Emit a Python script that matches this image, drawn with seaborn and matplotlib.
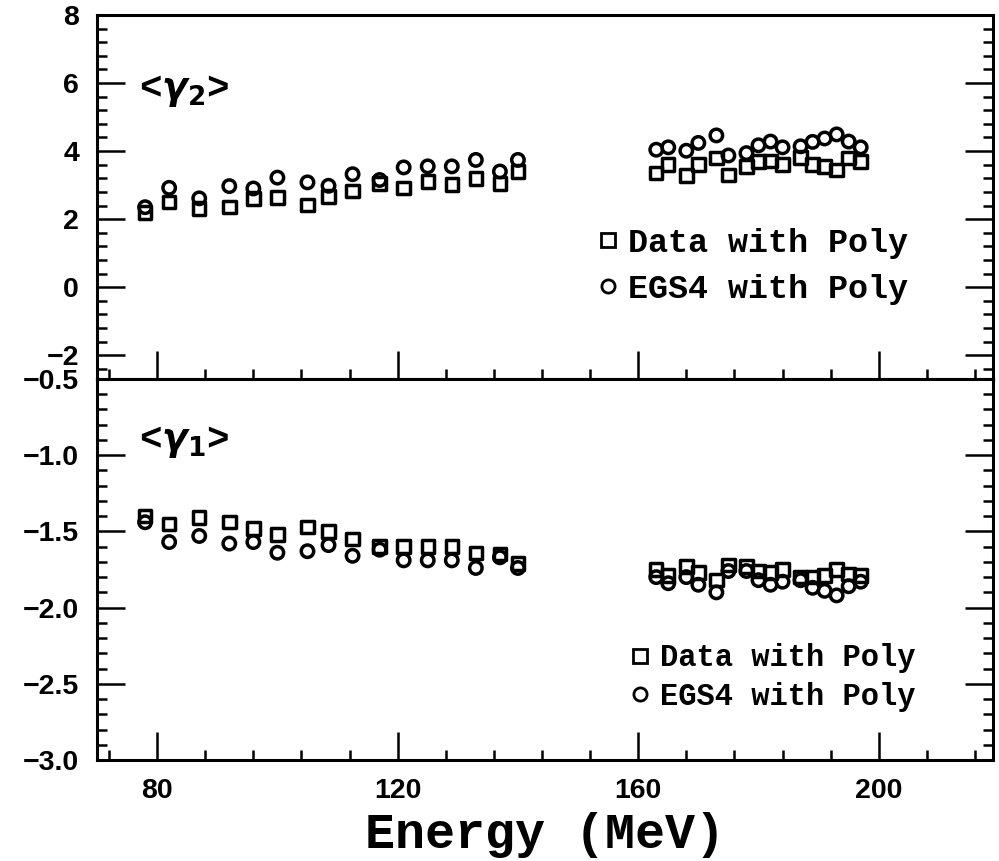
import numpy as np
import pandas as pd
import matplotlib
matplotlib.use('Agg')
import matplotlib.pyplot as plt
from matplotlib.ticker import MultipleLocator
from matplotlib.lines import Line2D
import seaborn as sns

# ---------------- data ----------------
energy_low = [78, 82, 87, 92, 96, 100, 105, 108.5, 112.5, 117, 121, 125, 129, 133, 137, 140]
energy_high = [163, 165, 168, 170, 173, 175, 178, 180, 182, 184, 187, 189, 191, 193, 195, 197]

g2_data_low = [2.20, 2.51, 2.31, 2.36, 2.60, 2.63, 2.41, 2.66, 2.82, 3.05, 2.92, 3.10, 3.02, 3.20, 3.05, 3.40]
g2_egs_low = [2.35, 2.92, 2.61, 2.97, 2.90, 3.22, 3.08, 2.98, 3.32, 3.15, 3.52, 3.55, 3.55, 3.74, 3.40, 3.74]
g2_data_high = [3.35, 3.60, 3.28, 3.60, 3.79, 3.30, 3.55, 3.69, 3.71, 3.60, 3.81, 3.60, 3.55, 3.45, 3.79, 3.69]
g2_egs_high = [4.04, 4.11, 4.01, 4.24, 4.46, 3.87, 3.94, 4.17, 4.28, 4.11, 4.14, 4.27, 4.37, 4.49, 4.28, 4.11]

g1_data_low = [-1.40, -1.45, -1.41, -1.44, -1.48, -1.52, -1.47, -1.50, -1.55, -1.60, -1.60, -1.60, -1.60, -1.64, -1.65, -1.71]
g1_egs_low = [-1.44, -1.57, -1.53, -1.58, -1.57, -1.64, -1.63, -1.59, -1.66, -1.62, -1.69, -1.69, -1.69, -1.74, -1.67, -1.74]
g1_data_high = [-1.75, -1.79, -1.73, -1.77, -1.82, -1.72, -1.73, -1.76, -1.77, -1.75, -1.80, -1.80, -1.79, -1.75, -1.78, -1.79]
g1_egs_high = [-1.80, -1.84, -1.80, -1.85, -1.90, -1.76, -1.76, -1.82, -1.85, -1.83, -1.82, -1.87, -1.89, -1.92, -1.86, -1.83]

series_names = ["Data with Poly", "EGS4 with Poly"]
x_ticks = [80, 120, 160, 200]

# ---------------- build tables ----------------
def make_df(data_low, data_high, egs_low, egs_high):
    e = energy_low + energy_high
    return pd.DataFrame({
        "energy": e + e,
        "value": data_low + data_high + egs_low + egs_high,
        "series": [series_names[0]] * len(e) + [series_names[1]] * len(e),
    })

df_g2 = make_df(g2_data_low, g2_data_high, g2_egs_low, g2_egs_high)
df_g1 = make_df(g1_data_low, g1_data_high, g1_egs_low, g1_egs_high)

sns.set_style("ticks")
plt.rcParams['font.family'] = ['Liberation Sans', 'DejaVu Sans']
plt.rcParams['font.weight'] = 'bold'
for k in ('text.color', 'axes.labelcolor', 'xtick.color', 'ytick.color',
          'xtick.labelcolor', 'ytick.labelcolor', 'axes.edgecolor'):
    plt.rcParams[k] = 'black'

fig = plt.figure(figsize=(9.99, 8.61), dpi=100)
L, R = 97 / 999, 993 / 999
ax1 = fig.add_axes([L, 1 - 379 / 861, R - L, (379 - 15) / 861])
ax2 = fig.add_axes([L, 1 - 760 / 861, R - L, (760 - 379) / 861])

mk = {series_names[0]: "s", series_names[1]: "o"}
for ax, df in ((ax1, df_g2), (ax2, df_g1)):
    sns.scatterplot(data=df, x="energy", y="value", style="series", markers=mk,
                    s=80, color="black", legend=False, ax=ax, zorder=3)
    coll = ax.collections[-1]
    coll.set_facecolor("none")
    coll.set_edgecolor("black")
    coll.set_linewidth(2.5)

mono = ['Liberation Mono', 'DejaVu Sans Mono']
for ax in (ax1, ax2):
    ax.set_xlim(70, 219)
    ax.set_xticks(x_ticks)
    ax.xaxis.set_minor_locator(MultipleLocator(8))
    ax.tick_params(which='both', direction='in', left=True, right=True,
                   bottom=True, top=False, width=1.8, color='black',
                   labelcolor='black')
    ax.tick_params(which='major', length=20, labelsize=20.5)
    ax.tick_params(which='minor', length=7)
    ax.tick_params(axis='y', pad=13)
    ax.tick_params(axis='x', pad=13)
    for sp in ax.spines.values():
        sp.set_linewidth(2.2)
        sp.set_color('black')
    ax.set_ylabel("")
    ax.set_xlabel("")
    for lab in ax.get_xticklabels() + ax.get_yticklabels():
        lab.set_fontweight('bold')

ax1.set_ylim(-2.7, 8)
ax1.yaxis.set_major_locator(MultipleLocator(2))
ax1.yaxis.set_minor_locator(MultipleLocator(0.4))
ax1.tick_params(axis='x', labelbottom=False)

ax2.set_ylim(-3.0, -0.5)
ax2.yaxis.set_major_locator(MultipleLocator(0.5))
ax2.yaxis.set_minor_locator(MultipleLocator(0.1))
ax2.set_xlabel("Energy (MeV)", family=mono, fontweight='bold', fontsize=36,
               va='center', color='black')
ax2.xaxis.set_label_coords(0.5, -0.196)

ax1.text(0.047, 0.79, r'<$\gamma_2$>', transform=ax1.transAxes, fontsize=27,
         family=mono, va='center', ha='left', color='black')
ax2.text(0.047, 0.835, r'<$\gamma_1$>', transform=ax2.transAxes, fontsize=27,
         family=mono, va='center', ha='left', color='black')

def add_legend(ax, x0, yc, fsize, spacing, tpad):
    handles = [Line2D([], [], ls='none', marker=mk[n], markersize=9.5,
                      markerfacecolor='none', markeredgecolor='black',
                      markeredgewidth=2.0, label=n) for n in series_names]
    leg = ax.legend(handles=handles, loc='center left', bbox_to_anchor=(x0, yc),
                    frameon=False, borderpad=0, borderaxespad=0, handlelength=1.0,
                    handletextpad=tpad, labelspacing=spacing,
                    prop={'family': mono, 'weight': 'bold', 'size': fsize})
    for t in leg.get_texts():
        t.set_color('black')

add_legend(ax1, 0.552, 0.31, 24, 0.45, 0.08)
add_legend(ax2, 0.589, 0.2165, 22, 0.28, 0.15)

fig.savefig("out.png", dpi=100)
